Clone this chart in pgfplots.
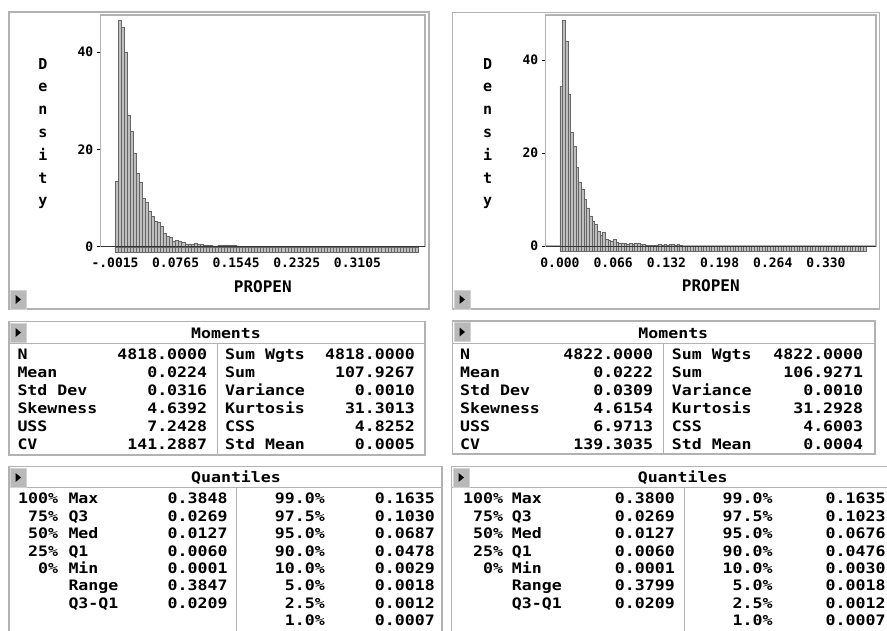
\documentclass[border=0pt]{standalone}
\usepackage{fontspec}
\usepackage{pgfplots}
\pgfplotsset{compat=1.18}
\usepackage{pgfplotstable}

\newfontfamily\monofont{DejaVu Sans Mono}
\newfontfamily\widemono{DejaVu Sans Mono}[FakeStretch=1.15]
\newcommand\tabf{\widemono\bfseries\fontsize{14.4}{16}\selectfont}
\newcommand\axf{\monofont\bfseries\fontsize{13}{14}\selectfont}
\newcommand\labf{\monofont\bfseries\fontsize{16}{16}\selectfont}
\newcommand\densf{\monofont\bfseries\fontsize{15}{22.8}\selectfont}

% bin index, density, rug (bars drawn below the axis)
\pgfplotstableread[row sep=\\]{
i h r\\
0 13.4 -1.1\\ 1 46.6 -1.1\\ 2 45.0 -1.1\\ 3 40.0 -1.1\\ 4 27.0 -1.1\\
5 23.8 -1.1\\ 6 19.2 -1.1\\ 7 15.0 -1.1\\ 8 13.2 -1.1\\ 9 9.9 -1.1\\
10 9.2 -1.1\\ 11 7.2 -1.1\\ 12 6.2 -1.1\\ 13 5.2 -1.1\\ 14 5.0 -1.1\\
15 4.3 -1.1\\ 16 2.8 -1.1\\ 17 2.2 -1.1\\ 18 1.9 -1.1\\ 19 1.2 -1.1\\
20 1.3 -1.1\\ 21 1.1 -1.1\\ 22 0.9 -1.1\\ 23 0.6 -1.1\\ 24 0.6 -1.1\\
25 0.5 -1.1\\ 26 0.8 -1.1\\ 27 0.5 -1.1\\ 28 0.5 -1.1\\ 29 0.4 -1.1\\
30 0.4 -1.1\\ 31 0.3 -1.1\\ 32 0.2 -1.1\\ 33 0.2 -1.1\\ 34 0.3 -1.1\\
35 0.4 -1.1\\ 36 0.4 -1.1\\ 37 0.4 -1.1\\ 38 0.3 -1.1\\ 39 0.4 -1.1\\
40 0.2 -1.1\\ 41 0.1 -1.1\\ 42 0.1 -1.1\\ 43 0.1 -1.1\\ 44 0.1 -1.1\\
45 0 -1.1\\ 46 0 -1.1\\ 47 0 -1.1\\ 48 0 -1.1\\ 49 0 -1.1\\
50 0 -1.1\\ 51 0 -1.1\\ 52 0 -1.1\\ 53 0 -1.1\\ 54 0 -1.1\\
55 0 -1.1\\ 56 0 -1.1\\ 57 0 -1.1\\ 58 0 -1.1\\ 59 0 -1.1\\
60 0 -1.1\\ 61 0 -1.1\\ 62 0 -1.1\\ 63 0 -1.1\\ 64 0 -1.1\\
65 0 -1.1\\ 66 0 -1.1\\ 67 0 -1.1\\ 68 0 -1.1\\ 69 0 -1.1\\
70 0 -1.1\\ 71 0 -1.1\\ 72 0 -1.1\\ 73 0 -1.1\\ 74 0 -1.1\\
75 0 -1.1\\ 76 0 -1.1\\ 77 0 -1.1\\ 78 0 -1.1\\ 79 0 -1.1\\
80 0 -1.1\\ 81 0 -1.1\\ 82 0 -1.1\\ 83 0 -1.1\\ 84 0 -1.1\\
85 0 -1.1\\ 86 0 -1.1\\ 87 0 -1.1\\ 88 0 -1.1\\ 89 0 -1.1\\
90 0 -1.1\\ 91 0 -1.1\\ 92 0 -1.1\\ 93 0 -1.1\\ 94 0 -1.1\\
95 0 -1.1\\ 96 0 -1.1\\ 97 0 -1.1\\ 98 0 -1.1\\ 99 0 -1.1\\
100 0 0\\
}\lefthist

\pgfplotstableread[row sep=\\]{
i h r\\
0 34.3 -1.1\\ 1 48.6 -1.1\\ 2 44.1 -1.1\\ 3 32.6 -1.1\\ 4 24.4 -1.1\\
5 21.4 -1.1\\ 6 16.9 -1.1\\ 7 13.8 -1.1\\ 8 12.2 -1.1\\ 9 10.1 -1.1\\
10 8.2 -1.1\\ 11 6.5 -1.1\\ 12 5.4 -1.1\\ 13 4.7 -1.1\\ 14 3.1 -1.1\\
15 2.3 -1.1\\ 16 2.9 -1.1\\ 17 1.4 -1.1\\ 18 1.3 -1.1\\ 19 1.1 -1.1\\
20 1.4 -1.1\\ 21 0.8 -1.1\\ 22 0.7 -1.1\\ 23 0.7 -1.1\\ 24 0.5 -1.1\\
25 0.4 -1.1\\ 26 0.5 -1.1\\ 27 0.4 -1.1\\ 28 0.6 -1.1\\ 29 0.7 -1.1\\
30 0.3 -1.1\\ 31 0.3 -1.1\\ 32 0.2 -1.1\\ 33 0.2 -1.1\\ 34 0.1 -1.1\\
35 0.2 -1.1\\ 36 0.1 -1.1\\ 37 0.3 -1.1\\ 38 0.2 -1.1\\ 39 0.3 -1.1\\
40 0.2 -1.1\\ 41 0.3 -1.1\\ 42 0.3 -1.1\\ 43 0.2 -1.1\\ 44 0.3 -1.1\\
45 0.1 -1.1\\ 46 0 -1.1\\ 47 0 -1.1\\ 48 0 -1.1\\ 49 0 -1.1\\
50 0 -1.1\\ 51 0 -1.1\\ 52 0 -1.1\\ 53 0 -1.1\\ 54 0 -1.1\\
55 0 -1.1\\ 56 0 -1.1\\ 57 0 -1.1\\ 58 0 -1.1\\ 59 0 -1.1\\
60 0 -1.1\\ 61 0 -1.1\\ 62 0 -1.1\\ 63 0 -1.1\\ 64 0 -1.1\\
65 0 -1.1\\ 66 0 -1.1\\ 67 0 -1.1\\ 68 0 -1.1\\ 69 0 -1.1\\
70 0 -1.1\\ 71 0 -1.1\\ 72 0 -1.1\\ 73 0 -1.1\\ 74 0 -1.1\\
75 0 -1.1\\ 76 0 -1.1\\ 77 0 -1.1\\ 78 0 -1.1\\ 79 0 -1.1\\
80 0 -1.1\\ 81 0 -1.1\\ 82 0 -1.1\\ 83 0 -1.1\\ 84 0 -1.1\\
85 0 -1.1\\ 86 0 -1.1\\ 87 0 -1.1\\ 88 0 -1.1\\ 89 0 -1.1\\
90 0 -1.1\\ 91 0 -1.1\\ 92 0 -1.1\\ 93 0 -1.1\\ 94 0 -1.1\\
95 0 -1.1\\ 96 0 -1.1\\ 97 0 -1.1\\ 98 0 -1.1\\ 99 0 -1.1\\
100 0 -1.1\\ 101 0 -1.1\\ 102 0 -1.1\\ 103 0 -1.1\\ 104 0 -1.1\\
105 0 -1.1\\ 106 0 -1.1\\ 107 0 -1.1\\ 108 0 -1.1\\ 109 0 -1.1\\
110 0 -1.1\\ 111 0 -1.1\\ 112 0 -1.1\\ 113 0 -1.1\\ 114 0 -1.1\\
115 0 0\\
}\righthist

\pgfplotsset{
  histo/.style={
    scale only axis, clip=false, ymin=0,
    axis line style={draw=gray!60, line width=1.2pt},
    ytick={0,20,40}, ytick pos=left, tick align=outside,
    major tick length=4pt,
    ytick style={black, line width=0.8pt},
    xtick style={draw=none},
    tick label style={font=\axf},
    /pgf/number format/assume math mode=true,
    xticklabel style={yshift=-4pt},
    xlabel={PROPEN},
    xlabel style={font=\labf, at={(axis description cs:0.5,0)}, anchor=center, yshift=-40pt},
  },
  bars/.style={ybar interval, fill=gray!50, draw=black!60, line width=0.4pt},
}

\begin{document}
\begin{tikzpicture}
\useasboundingbox (0pt,0pt) rectangle (887pt,-630pt);
\clip (0pt,0pt) rectangle (887pt,-630pt);
\fill[white] (0pt,0pt) rectangle (887pt,-630pt);

\begin{axis}[histo, at={(100.7pt,-246.7pt)}, anchor=south west,
  width=324.3pt, height=231.7pt,
  xmin=-4.72, xmax=102.3, ymax=47.6,
  xtick={0,20,40,60,80},
  xticklabels={-.0015,0.0765,0.1545,0.2325,0.3105}]
\addplot[bars] table[x=i, y=h] {\lefthist};
\addplot[bars] table[x=i, y=r] {\lefthist};
\draw[black!80, line width=1pt] (rel axis cs:0,0) -- (rel axis cs:1,0);
\end{axis}

\begin{axis}[histo, at={(545.7pt,-246pt)}, anchor=south west,
  width=330.3pt, height=231pt,
  xmin=-5.36, xmax=118.8, ymax=49.7,
  xtick={0,20,40,60,80,100},
  xticklabels={0.000,0.066,0.132,0.198,0.264,0.330}]
\addplot[bars] table[x=i, y=h] {\righthist};
\addplot[bars] table[x=i, y=r] {\righthist};
\draw[black!80, line width=1pt] (rel axis cs:0,0) -- (rel axis cs:1,0);
\end{axis}

\begin{scope}[x=1pt, y=1pt]
\tikzset{
  frame/.style={draw=gray!60, line width=1.3pt},
  sep/.style={draw=gray!60, line width=1pt},
  tl/.style={anchor=base west, inner sep=0pt, font=\tabf},
  tr/.style={anchor=base east, inner sep=0pt, font=\tabf},
}
\newcommand\btn[2]{%
  \fill[gray!55] (#1,-#2) rectangle ++(16,-19);
  \draw[gray!35, line width=0.6pt] (#1,-#2) rectangle ++(16,-19);
  \fill[black] ({#1+5.5},{-#2-5}) -- ++(5.5,-4.5) -- ++(-5.5,-4.5) -- cycle;
}

% ---------- histogram frames ----------
\draw[frame] (9,-12) rectangle (429,-309);
\draw[frame] (452.3,-12.3) rectangle (879.3,-309);
\btn{10}{290}
\btn{454}{290}

\node[font=\densf, align=center] at (43,-133.5) {D\\e\\n\\s\\i\\t\\y};
\node[font=\densf, align=center] at (487.7,-133.5) {D\\e\\n\\s\\i\\t\\y};

% ---------- Moments ----------
\draw[frame] (9,-321.7) rectangle (425,-455);
\draw[sep] (9,-343.3) -- (425,-343.3);
\draw[sep] (217.3,-343.3) -- (217.3,-455);
\btn{10}{323}
\node[anchor=base, inner sep=0pt, font=\tabf] at (226,-338) {Moments};
\foreach \a/\b/\c/\d [count=\k from 0] in {
  N/4818.0000/Sum Wgts/4818.0000,
  Mean/0.0224/Sum/107.9267,
  Std Dev/0.0316/Variance/0.0010,
  Skewness/4.6392/Kurtosis/31.3013,
  USS/7.2428/CSS/4.8252,
  CV/141.2887/Std Mean/0.0005}{
  \pgfmathsetmacro\yy{-(359.6+18*\k)}
  \node[tl] at (17.3,\yy) {\a};
  \node[tr] at (207.3,\yy) {\b};
  \node[tl] at (225,\yy) {\c};
  \node[tr] at (415,\yy) {\d};
}

\draw[frame] (452.3,-321) rectangle (875,-454);
\draw[sep] (452.3,-343) -- (875,-343);
\draw[sep] (663.3,-343) -- (663.3,-454);
\btn{454}{322.5}
\node[anchor=base, inner sep=0pt, font=\tabf] at (673.3,-338) {Moments};
\foreach \a/\b/\c/\d [count=\k from 0] in {
  N/4822.0000/Sum Wgts/4822.0000,
  Mean/0.0222/Sum/106.9271,
  Std Dev/0.0309/Variance/0.0010,
  Skewness/4.6154/Kurtosis/31.2928,
  USS/6.9713/CSS/4.6003,
  CV/139.3035/Std Mean/0.0004}{
  \pgfmathsetmacro\yy{-(359.6+18*\k)}
  \node[tl] at (460,\yy) {\a};
  \node[tr] at (653.3,\yy) {\b};
  \node[tl] at (671.7,\yy) {\c};
  \node[tr] at (863.3,\yy) {\d};
}

% ---------- Quantiles ----------
\draw[frame] (9,-466.7) rectangle (442,-650);
\draw[sep] (9,-487.7) -- (442,-487.7);
\draw[sep] (236.7,-487.7) -- (236.7,-650);
\btn{10}{468}
\node[anchor=base, inner sep=0pt, font=\tabf] at (236,-482) {Quantiles};
\foreach \p/\a/\b/\q/\d [count=\k from 0] in {
  100\%/Max/0.3848/99.0\%/0.1635,
  75\%/Q3/0.0269/97.5\%/0.1030,
  50\%/Med/0.0127/95.0\%/0.0687,
  25\%/Q1/0.0060/90.0\%/0.0478,
  0\%/Min/0.0001/10.0\%/0.0029,
  {}/Range/0.3847/5.0\%/0.0018,
  {}/Q3-Q1/0.0209/2.5\%/0.0012,
  {}/{}/{}/1.0\%/0.0007}{
  \pgfmathsetmacro\yy{-(503.8+17.4*\k)}
  \node[tr] at (58.3,\yy) {\p};
  \node[tl] at (68.3,\yy) {\a};
  \node[tr] at (227.7,\yy) {\b};
  \node[tr] at (325,\yy) {\q};
  \node[tr] at (435,\yy) {\d};
}

\draw[frame] (451.7,-466.7) rectangle (895,-650);
\draw[sep] (451.7,-487.7) -- (895,-487.7);
\draw[sep] (684.3,-487.7) -- (684.3,-650);
\btn{453}{468}
\node[anchor=base, inner sep=0pt, font=\tabf] at (682.7,-482) {Quantiles};
\foreach \p/\a/\b/\q/\d [count=\k from 0] in {
  100\%/Max/0.3800/99.0\%/0.1635,
  75\%/Q3/0.0269/97.5\%/0.1023,
  50\%/Med/0.0127/95.0\%/0.0676,
  25\%/Q1/0.0060/90.0\%/0.0476,
  0\%/Min/0.0001/10.0\%/0.0030,
  {}/Range/0.3799/5.0\%/0.0018,
  {}/Q3-Q1/0.0209/2.5\%/0.0012,
  {}/{}/{}/1.0\%/0.0007}{
  \pgfmathsetmacro\yy{-(503.8+17.4*\k)}
  \node[tr] at (503.3,\yy) {\p};
  \node[tl] at (511.7,\yy) {\a};
  \node[tr] at (675,\yy) {\b};
  \node[tr] at (772.7,\yy) {\q};
  \node[tr] at (885.7,\yy) {\d};
}
\end{scope}
\end{tikzpicture}
\end{document}
